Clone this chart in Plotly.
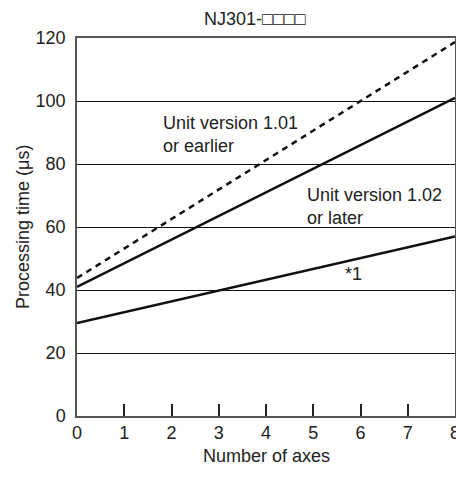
import plotly.graph_objects as go

axes = [0, 8]
v101_earlier = [43.8, 118.7]
v102_later = [41.0, 101.0]
note1 = [29.5, 57.0]

x_ticks = [0, 1, 2, 3, 4, 5, 6, 7, 8]
y_ticks = [0, 20, 40, 60, 80, 100, 120]

font = dict(family="Liberation Sans, Arial, sans-serif", size=18, color="#222")

fig = go.Figure()
fig.add_trace(go.Scatter(x=axes, y=v101_earlier, mode="lines",
                         line=dict(color="#111", width=2.5, dash="6px,5px")))
fig.add_trace(go.Scatter(x=axes, y=v102_later, mode="lines",
                         line=dict(color="#111", width=2.5)))
fig.add_trace(go.Scatter(x=axes, y=note1, mode="lines",
                         line=dict(color="#111", width=2.5)))

# labels on the lines
fig.add_annotation(x=1.78, y=89.5, xref="x", yref="y", xanchor="left", yanchor="middle",
                   text="Unit version 1.01<br>or earlier", align="left", showarrow=False, font=font)
fig.add_annotation(x=4.83, y=66.5, xref="x", yref="y", xanchor="left", yanchor="middle",
                   text="Unit version 1.02<br>or later", align="left", showarrow=False, font=font)
fig.add_annotation(x=5.63, y=45.2, xref="x", yref="y", xanchor="left", yanchor="middle",
                   text="*1", showarrow=False, font=font)

# title and axis titles
fig.add_annotation(x=0.5, y=1.0, xref="paper", yref="paper", xanchor="center", yanchor="middle",
                   xshift=-11, yshift=19, text="NJ301-□□□□", showarrow=False, font=font)
fig.add_annotation(x=0.5, y=0, xref="paper", yref="paper", xanchor="center", yanchor="middle",
                   yshift=-40, text="Number of axes", showarrow=False, font=font)
fig.add_annotation(x=0, y=0.5, xref="paper", yref="paper", xanchor="center", yanchor="middle",
                   xshift=-54, textangle=-90, text="Processing time (μs)", showarrow=False, font=font)

fig.update_layout(
    width=456, height=477,
    margin=dict(l=77, r=1, t=38, b=61),
    plot_bgcolor="white", paper_bgcolor="white",
    showlegend=False,
    font=font,
)
fig.update_xaxes(range=[0, 8], tickvals=x_ticks, ticks="inside", ticklen=12, tickcolor="#222",
                 tickwidth=1.5, showgrid=False, zeroline=False, showline=True, linecolor="#555",
                 linewidth=1.5, mirror=True, tickfont=font, automargin=False,
                 ticklabeloverflow="allow")
fig.update_yaxes(range=[0, 120], tickvals=y_ticks, ticks="", showgrid=True, gridcolor="#111",
                 gridwidth=1, zeroline=False, showline=True, linecolor="#555", linewidth=1.5,
                 mirror=True, tickfont=font, ticklabelstandoff=6, automargin=False)

# drop the default 8px body margin so the figure fills the window
fig.write_html("out.html", config={"displayModeBar": False},
               post_script="document.body.style.margin='0';document.body.style.overflow='hidden';")
